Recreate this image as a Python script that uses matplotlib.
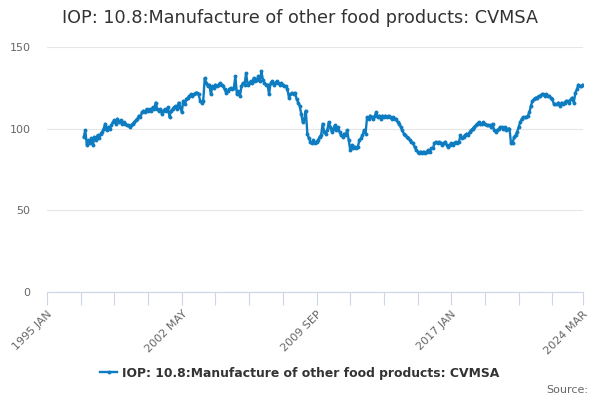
import matplotlib
matplotlib.use("Agg")
import matplotlib.pyplot as plt
import numpy as np

start_year = 1997
values = [
    # 1997
    95, 99, 90, 93, 91, 94, 90, 95, 93, 96, 94, 97,
    # 1998
    98, 100, 103, 99, 101, 100, 102, 104, 105, 103, 106, 104,
    # 1999
    105, 103, 104, 103, 102, 102, 101, 102, 103, 104, 105, 106,
    # 2000
    108, 107, 110, 111, 110, 112, 111, 112, 111, 113, 112, 116,
    # 2001
    112, 111, 112, 109, 111, 112, 111, 113, 107, 111, 112, 113,
    # 2002
    114, 112, 116, 113, 110, 117, 115, 118, 119, 120, 121, 120,
    # 2003
    121, 122, 122, 121, 117, 116, 117, 131, 128, 126, 127, 121,
    # 2004
    126, 125, 127, 126, 127, 128, 127, 126, 124, 122, 123, 124,
    # 2005
    125, 124, 125, 132, 121, 123, 120, 126, 128, 127, 134, 127,
    # 2006
    128, 129, 128, 131, 129, 130, 132, 129, 135, 130, 128, 127,
    # 2007
    127, 121, 128, 129, 127, 128, 129, 128, 127, 128, 127, 126,
    # 2008
    126, 124, 119, 121, 122, 121, 122, 118, 116, 114, 109, 104,
    # 2009
    106, 111, 97, 94, 92, 91, 93, 91, 92, 93, 95, 96,
    # 2010
    103, 98, 97, 99, 104, 101, 98, 100, 102, 99, 101, 98,
    # 2011
    96, 95, 97, 96, 99, 93, 87, 90, 88, 89, 88, 89,
    # 2012
    93, 94, 96, 99, 97, 107, 106, 108, 107, 106, 108, 110,
    # 2013
    107, 108, 106, 108, 107, 108, 107, 108, 107, 106, 107, 106,
    # 2014
    106, 104, 103, 101, 99, 97, 96, 95, 94, 93, 92, 91,
    # 2015
    89, 87, 86, 85, 86, 85, 86, 85, 86, 87, 86, 88,
    # 2016
    88, 91, 92, 91, 92, 91, 90, 91, 92, 90, 89, 90,
    # 2017
    91, 90, 91, 92, 91, 92, 96, 94, 95, 96, 97, 96,
    # 2018
    98, 99, 100, 101, 102, 103, 104, 103, 103, 104, 103, 102,
    # 2019
    102, 102, 101, 103, 99, 98, 99, 100, 101, 101, 100, 101,
    # 2020
    99, 100, 100, 91, 91, 95, 96, 98, 101, 104, 106, 107,
    # 2021
    107, 107, 108, 110, 114, 117, 118, 119, 119, 120, 120, 121,
    # 2022
    121, 120, 121, 120, 120, 119, 118, 115, 115, 115, 116, 114,
    # 2023
    116, 115, 116, 117, 117, 116, 118, 119, 116, 122, 124, 127,
    # 2024
    126, 126, 127,
]

axis_start_year = 1995
tick_labels = ["1995 JAN", "2002 MAY", "2009 SEP", "2017 JAN", "2024 MAR"]
y_ticks = [0, 50, 100, 150]
title = "IOP: 10.8:Manufacture of other food products: CVMSA"
series_name = "IOP: 10.8:Manufacture of other food products: CVMSA"

offset = (start_year - axis_start_year) * 12
x = np.arange(len(values)) + offset
n_total = (2024 - axis_start_year) * 12 + 2  # index of 2024 MAR

fig = plt.figure(figsize=(6, 4), dpi=100)
ax = fig.add_axes([47/600, 1 - 292/400, (583-47)/600, (292-47)/400])

color = "#0d7cc1"
ax.plot(x, values, color=color, lw=1.7, marker="o", ms=2.8,
        markeredgewidth=0, label=series_name, zorder=3)

ax.set_xlim(0, n_total)
ax.set_ylim(0, 150)
ax.set_yticks(y_ticks)
ax.set_yticklabels([str(v) for v in y_ticks])
ax.grid(axis="y", color="#e6e6e6", lw=0.8)
ax.set_axisbelow(True)

label_pos = [0, 88, 176, 264, n_total]
minor = list(range(0, n_total, 22)) + [n_total]
ax.set_xticks(minor)
labs = [tick_labels[label_pos.index(t)] if t in label_pos else "" for t in minor]
ax.set_xticklabels(labs, rotation=45, ha="right", rotation_mode="anchor")

for s in ["top", "right", "left"]:
    ax.spines[s].set_visible(False)
ax.spines["bottom"].set_color("#ccd6eb")
ax.tick_params(axis="x", length=9, color="#ccd6eb", labelsize=8, labelcolor="#666666", pad=3)
ax.tick_params(axis="y", length=0, labelsize=8, labelcolor="#666666", pad=12)

fig.text(0.5, 1 - 18/400, title, ha="center", va="center", fontsize=12.7, color="#333333")

leg = fig.legend(loc="center", bbox_to_anchor=(0.5, 1 - 373/400), frameon=False,
                 prop={"weight": "bold", "size": 8.9}, handlelength=1.4, handletextpad=0.4)
for t in leg.get_texts():
    t.set_color("#333333")

fig.text(588/600, 1 - 390/400, "Source:", ha="right", va="center", fontsize=8, color="#666666")

fig.savefig("out.png", dpi=100)
